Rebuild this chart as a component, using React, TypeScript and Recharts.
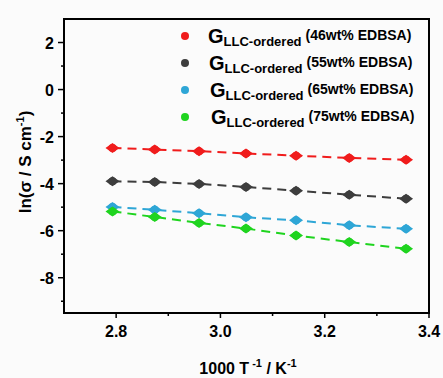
import React from "react";
import { LineChart, Line, XAxis, YAxis, ReferenceArea, Label } from "recharts";

// 1000/T (K^-1)
const invT = [2.793, 2.874, 2.959, 3.049, 3.145, 3.247, 3.356];
const lnSigma46 = [-2.48, -2.55, -2.62, -2.72, -2.81, -2.91, -2.98];
const lnSigma55 = [-3.9, -3.93, -4.01, -4.14, -4.3, -4.47, -4.64];
const lnSigma65 = [-4.99, -5.11, -5.26, -5.43, -5.56, -5.77, -5.92];
const lnSigma75 = [-5.18, -5.42, -5.67, -5.91, -6.21, -6.48, -6.77];

const xTicks = [2.8, 2.9, 3.0, 3.1, 3.2, 3.3, 3.4];
const yTicks = [-9, -8, -7, -6, -5, -4, -3, -2, -1, 0, 1, 2];

const SERIES = [
  { key: "s46", label: "(46wt% EDBSA)", color: "#f01c1c" },
  { key: "s55", label: "(55wt% EDBSA)", color: "#3d3d3d" },
  { key: "s65", label: "(65wt% EDBSA)", color: "#2ea6d6" },
  { key: "s75", label: "(75wt% EDBSA)", color: "#1fd41f" },
];

const data = invT.map((x, i) => ({
  x,
  s46: lnSigma46[i],
  s55: lnSigma55[i],
  s65: lnSigma65[i],
  s75: lnSigma75[i],
}));

const FONT = "'Liberation Sans', Arial, sans-serif";

const makeDot = (color: string) => (props: any) => {
  const { cx, cy, index } = props;
  if (cx == null || cy == null) return null;
  return (
    <g key={index}>
      <path d={`M${cx - 7},${cy} L${cx},${cy - 5} L${cx + 7},${cy} L${cx},${cy + 5} Z`} fill={color} />
      <circle cx={cx} cy={cy} r={4} fill={color} />
    </g>
  );
};

const XTick = (props: any) => {
  const { x, y, payload } = props;
  const major = Math.round(payload.value * 10) % 2 === 0;
  return (
    <g>
      <line x1={x} x2={x} y1={y} y2={y + (major ? 5 : 3)} stroke="#000" strokeWidth={1.5} />
      {major && (
        <text x={x} y={y + 24} textAnchor="middle" fontSize={16} fontWeight="bold" fontFamily={FONT} fill="#000">
          {payload.value.toFixed(1)}
        </text>
      )}
    </g>
  );
};

const YTick = (props: any) => {
  const { x, y, payload } = props;
  const major = Math.abs(payload.value) % 2 === 0;
  return (
    <g>
      <line x1={x} x2={x - (major ? 6 : 3)} y1={y} y2={y} stroke="#000" strokeWidth={1.5} />
      {major && (
        <text x={x - 10} y={y + 6} textAnchor="end" fontSize={16} fontWeight="bold" fontFamily={FONT} fill="#000">
          {payload.value}
        </text>
      )}
    </g>
  );
};

const LegendBox = () => (
  <div
    style={{
      position: "absolute",
      left: 181,
      top: 22,
      fontFamily: FONT,
      fontWeight: "bold",
      color: "#000",
      lineHeight: 1,
    }}
  >
    {SERIES.map((s, i) => (
      <div key={s.key} style={{ display: "flex", alignItems: "center", height: 27 }}>
        <span
          style={{
            display: "inline-block",
            width: 8,
            height: 8,
            borderRadius: 4,
            background: s.color,
            marginRight: 19 + i,
          }}
        />
        <span style={{ fontSize: 20 }}>G</span>
        <span style={{ fontSize: 13, position: "relative", top: 6, marginRight: 4 }}>LLC-ordered</span>
        <span style={{ fontSize: 14, position: "relative", top: -1 }}>{s.label}</span>
      </div>
    ))}
  </div>
);

export default function App() {
  return (
    <div style={{ position: "absolute", left: 0, top: 0, width: 443, height: 378, background: "#fbfbfb" }}>
      <LineChart width={443} height={378} data={data} margin={{ top: 19, right: 14, bottom: 0, left: 0 }}>
        <XAxis
          type="number"
          dataKey="x"
          domain={[2.7, 3.4]}
          ticks={xTicks}
          tick={<XTick />}
          tickLine={false}
          tickSize={0}
          tickMargin={0}
          height={65}
          axisLine={{ stroke: "#000", strokeWidth: 2 }}
          allowDataOverflow
        >
          <Label
            content={() => (
              <text x={248} y={374} textAnchor="middle" fontSize={16} fontWeight="bold" fontFamily={FONT} fill="#000">
                1000 T
                <tspan fontSize={11} dy={-7}> -1</tspan>
                <tspan dy={7}> / K</tspan>
                <tspan fontSize={11} dy={-7}>-1</tspan>
              </text>
            )}
          />
        </XAxis>
        <YAxis
          type="number"
          domain={[-9.5, 3]}
          ticks={yTicks}
          tick={<YTick />}
          tickLine={false}
          tickSize={0}
          tickMargin={0}
          width={64}
          axisLine={{ stroke: "#000", strokeWidth: 2 }}
          allowDataOverflow
        >
          <Label
            content={() => (
              <text
                x={31}
                y={162}
                transform="rotate(-90 31 162)"
                textAnchor="middle"
                fontSize={17}
                fontWeight="bold"
                fontFamily={FONT}
                fill="#000"
              >
                ln(σ / S cm
                <tspan fontSize={11} dy={-7}>-1</tspan>
                <tspan dy={7}>)</tspan>
              </text>
            )}
          />
        </YAxis>
        <ReferenceArea x1={2.7} x2={3.4} y1={-9.5} y2={3} stroke="#000" strokeWidth={2} fill="none" fillOpacity={0} />
        {SERIES.map((s) => (
          <Line
            key={s.key}
            dataKey={s.key}
            stroke={s.color}
            strokeWidth={2}
            strokeDasharray="9 6"
            dot={makeDot(s.color)}
            activeDot={false}
            isAnimationActive={false}
          />
        ))}
      </LineChart>
      <LegendBox />
    </div>
  );
}
